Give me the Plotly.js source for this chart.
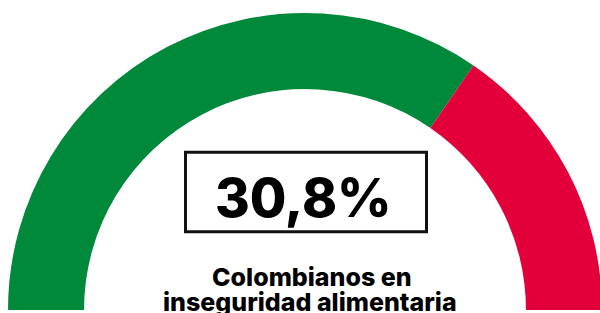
<!DOCTYPE html>
<html>
<head>
<meta charset="utf-8">
<script src="https://cdn.plot.ly/plotly-3.0.1.min.js"></script>
<style>
  html, body { margin: 0; padding: 0; background: #ffffff; overflow: hidden; }
  #chart { width: 610px; height: 620px; }
</style>
</head>
<body>
<div id="chart"></div>
<script>
// ---- data ----
const categories = ['Colombianos en seguridad alimentaria', 'Colombianos en inseguridad alimentaria'];
const values = [69.2, 30.8];
const colors = ['#00883b', '#e3003a'];
const highlightIndex = 1;
const subtitleLines = ['Colombianos en', 'inseguridad alimentaria'];

// ---- layout helpers ----
const W = 610, H = 620;
const px = x => x / W;
const py = y => (H - y) / H;

const total = values.reduce((a, b) => a + b, 0);

const trace = {
  type: 'pie',
  labels: categories.concat(['']),
  values: values.concat([total]),
  marker: { colors: colors.concat(['rgba(0,0,0,0)']), line: { width: 0 } },
  sort: false,
  direction: 'clockwise',
  rotation: 270,
  hole: 0.744,
  textinfo: 'none',
  hoverinfo: 'skip',
  showlegend: false,
  domain: { x: [px(8), px(602)], y: [py(607), py(13)] }
};

const valueText = values[highlightIndex].toFixed(1).replace('.', ',') + '%';

const layout = {
  width: W, height: H,
  margin: { l: 0, r: 0, t: 0, b: 0 },
  paper_bgcolor: '#ffffff',
  plot_bgcolor: '#ffffff',
  showlegend: false,
  shapes: [{
    type: 'rect', xref: 'paper', yref: 'paper',
    x0: px(185.5), x1: px(426.5), y0: py(152.2), y1: py(231.8),
    line: { color: '#111111', width: 3 },
    fillcolor: 'rgba(0,0,0,0)'
  }],
  annotations: [
    {
      xref: 'paper', yref: 'paper', x: px(303), y: py(198),
      xanchor: 'center', yanchor: 'middle', showarrow: false,
      text: valueText,
      font: { family: 'Inter, Lato, sans-serif', size: 53, weight: 800, color: '#000000' }
    },
    {
      xref: 'paper', yref: 'paper', x: px(312), y: py(277),
      xanchor: 'center', yanchor: 'middle', showarrow: false,
      text: subtitleLines[0],
      font: { family: 'Inter, Lato, sans-serif', size: 25, weight: 800, color: '#000000' }
    },
    {
      xref: 'paper', yref: 'paper', x: px(310), y: py(302),
      xanchor: 'center', yanchor: 'middle', showarrow: false,
      text: subtitleLines[1],
      font: { family: 'Inter, Lato, sans-serif', size: 25, weight: 800, color: '#000000' }
    }
  ]
};

Plotly.newPlot('chart', [trace], layout, { staticPlot: true, displayModeBar: false });
</script>
</body>
</html>
